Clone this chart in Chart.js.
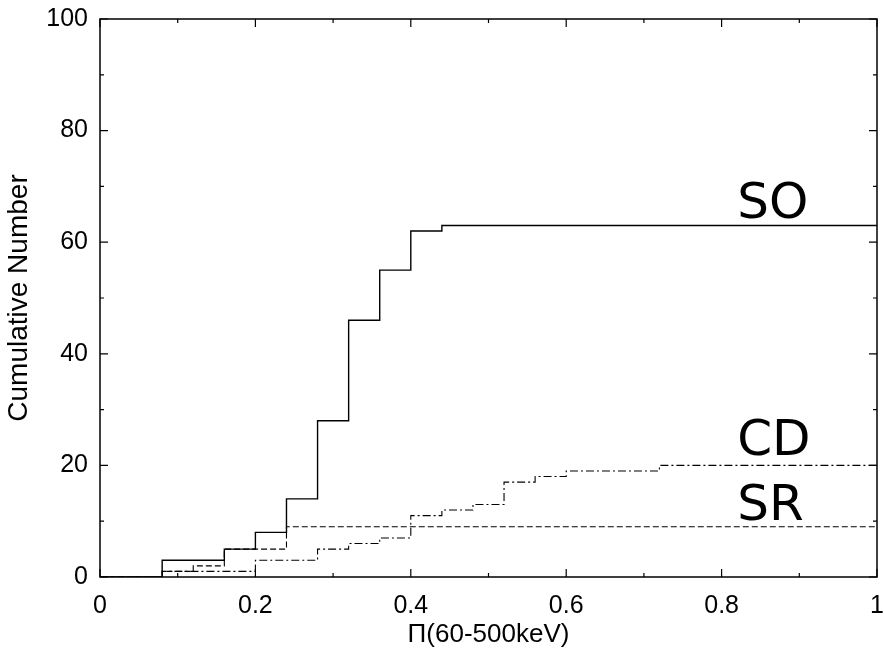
<!DOCTYPE html>
<html>
<head>
<meta charset="utf-8">
<script src="https://cdn.jsdelivr.net/npm/chart.js@4/dist/chart.umd.min.js"></script>
<style>
  html, body { margin: 0; padding: 0; background: #ffffff; }
  #c { display: block; }
</style>
</head>
<body>
<canvas id="c" width="884" height="656"></canvas>
<script>
// ---- data ----
const soX = [0, 0.08, 0.16, 0.20, 0.24, 0.28, 0.32, 0.36, 0.40, 0.44, 1.0];
const soY = [0, 3, 5, 8, 14, 28, 46, 55, 62, 63, 63];

const srX = [0, 0.08, 0.12, 0.16, 0.24, 1.0];
const srY = [0, 1, 2, 5, 9, 9];

const cdX = [0, 0.08, 0.20, 0.28, 0.32, 0.36, 0.40, 0.44, 0.48, 0.52, 0.56, 0.60, 0.72, 1.0];
const cdY = [0, 1, 3, 5, 6, 7, 11, 12, 13, 17, 18, 19, 20, 20];

const xTickLabels = ['0', '0.2', '0.4', '0.6', '0.8', '1'];
const yTickLabels = ['0', '20', '40', '60', '80', '100'];

const seriesNames = ['SO', 'SR', 'CD'];
const labelTexts = ['SO', 'CD', 'SR'];
const labelX = [0.82, 0.82, 0.82];
const labelY = [64.3, 21.9, 10.2];

const xTitle = 'Π(60-500keV)';
const yTitle = 'Cumulative Number';

// ---- build ----
function pts(xs, ys) { return xs.map((x, i) => ({ x: x, y: ys[i] })); }

const TICK_FONT = { family: '"Liberation Sans", Arial, sans-serif', size: 25 };
const XTITLE_FONT = { family: '"Liberation Sans", Arial, sans-serif', size: 26 };
const YTITLE_FONT = { family: '"Liberation Sans", Arial, sans-serif', size: 28 };

const framePlugin = {
  id: 'frame',
  afterDatasetsDraw(chart) {
    const ctx = chart.ctx;
    const a = chart.chartArea;
    const xs = chart.scales.x, ys = chart.scales.y;
    ctx.save();
    ctx.strokeStyle = '#000';
    ctx.lineWidth = 1.5;
    ctx.strokeRect(a.left, a.top, a.right - a.left, a.bottom - a.top);
    ctx.lineWidth = 1.2;
    const major = 8, minor = 4;
    const xt = xs.ticks.map(t => t.value);
    const yt = ys.ticks.map(t => t.value);
    ctx.beginPath();
    xt.forEach((v, i) => {
      const p = xs.getPixelForValue(v);
      ctx.moveTo(p, a.bottom); ctx.lineTo(p, a.bottom - major);
      ctx.moveTo(p, a.top); ctx.lineTo(p, a.top + major);
      if (i < xt.length - 1) {
        const m = xs.getPixelForValue((v + xt[i + 1]) / 2);
        ctx.moveTo(m, a.bottom); ctx.lineTo(m, a.bottom - minor);
        ctx.moveTo(m, a.top); ctx.lineTo(m, a.top + minor);
      }
    });
    yt.forEach((v, i) => {
      const p = ys.getPixelForValue(v);
      ctx.moveTo(a.left, p); ctx.lineTo(a.left + major, p);
      ctx.moveTo(a.right, p); ctx.lineTo(a.right - major, p);
      if (i < yt.length - 1) {
        const m = ys.getPixelForValue((v + yt[i + 1]) / 2);
        ctx.moveTo(a.left, m); ctx.lineTo(a.left + minor, m);
        ctx.moveTo(a.right, m); ctx.lineTo(a.right - minor, m);
      }
    });
    ctx.stroke();
    // series labels
    ctx.fillStyle = '#000';
    ctx.font = '50px "DejaVu Sans", sans-serif';
    ctx.textAlign = 'left';
    ctx.textBaseline = 'alphabetic';
    labelTexts.forEach((t, i) => {
      ctx.fillText(t, xs.getPixelForValue(labelX[i]), ys.getPixelForValue(labelY[i]));
    });
    ctx.restore();
  }
};

new Chart(document.getElementById('c'), {
  type: 'line',
  data: {
    datasets: [
      { label: seriesNames[0], data: pts(soX, soY), borderColor: '#000', borderWidth: 1.4, stepped: 'before' },
      { label: seriesNames[1], data: pts(srX, srY), borderColor: '#000', borderWidth: 1.1, borderDash: [6, 3], stepped: 'before' },
      { label: seriesNames[2], data: pts(cdX, cdY), borderColor: '#000', borderWidth: 1.1, borderDash: [8, 3, 2, 3], stepped: 'before' }
    ]
  },
  options: {
    responsive: false,
    animation: false,
    layout: { padding: { top: 19, right: 7, left: 0, bottom: 0 } },
    elements: { point: { radius: 0 }, line: { tension: 0, fill: false } },
    plugins: { legend: { display: false }, tooltip: { enabled: false } },
    scales: {
      x: {
        type: 'linear', min: 0, max: 1,
        grid: { display: false, drawTicks: false },
        border: { display: false },
        ticks: {
          stepSize: 0.2, padding: 14, color: '#000', font: TICK_FONT,
          maxRotation: 0, autoSkip: false,
          callback: (v, i) => xTickLabels[i]
        },
        title: { display: true, text: xTitle, color: '#000', font: XTITLE_FONT, padding: { top: 0, bottom: 6 } },
        afterFit: s => { s.height = 79; s.paddingLeft = 0; s.paddingRight = 0; s.paddingTop = 0; s.paddingBottom = 0; }
      },
      y: {
        type: 'linear', min: 0, max: 100,
        grid: { display: false, drawTicks: false },
        border: { display: false },
        ticks: {
          stepSize: 20, padding: 12, color: '#000', font: TICK_FONT,
          callback: (v, i) => yTickLabels[i]
        },
        title: { display: true, text: yTitle, color: '#000', font: YTITLE_FONT, padding: { top: 2, bottom: 0 } },
        afterFit: s => { s.width = 100; s.paddingLeft = 0; s.paddingRight = 0; s.paddingTop = 0; s.paddingBottom = 0; }
      }
    }
  },
  plugins: [framePlugin]
});
</script>
</body>
</html>
